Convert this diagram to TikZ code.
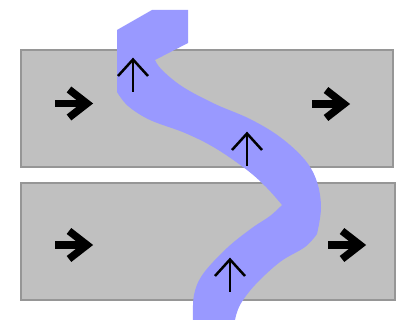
\documentclass[tikz,border=0pt]{standalone}
\usetikzlibrary{arrows.meta}
\definecolor{bandblue}{RGB}{153,153,255}
\definecolor{boxgray}{RGB}{192,192,192}
\definecolor{edgegray}{RGB}{150,150,150}
\tikzset{
  panel/.style={draw=edgegray, fill=boxgray, line width=1.5pt, inner sep=0pt, outer sep=0pt, anchor=north west},
  boldline/.style={line width=7.5pt, black},
  thinline/.style={line width=2.5pt, black},
  fwd/.pic={
    \draw[boldline] (-18,0) -- (11,0);
    \draw[boldline, line join=miter] (-4,-14) -- (14,0) -- (-4,14);
  },
  upar/.pic={
    \draw[thinline] (0,17) -- (0,-15);
    \draw[thinline, line join=miter] (-15,1) -- (0,-15.5) -- (15,1);
  }
}
\begin{document}
\begin{tikzpicture}[x=1pt,y=-1pt]
\useasboundingbox (0,0) rectangle (402,320);
\fill[white] (0,0) rectangle (402,320);
\node[panel, minimum width=372pt, minimum height=117pt] (top) at (21,50) {};
\node[panel, minimum width=374pt, minimum height=117pt] (bottom) at (21,183) {};
\fill[bandblue] (117,30) -- (152,10) -- (188,10) -- (188,43) -- (155,60)
  -- plot[smooth, tension=0.6] coordinates {(155,60) (162,70) (183,87) (215,104) (250,119) (280,137) (305,160) (317,182) (321,208) (317,234)}
  -- plot[smooth, tension=0.6] coordinates {(317,234) (305,247) (280,262) (255,285) (240,305) (235,320)}
  -- (193,320)
  -- plot[smooth, tension=0.6] coordinates {(193,320) (194,295) (203,274) (227,248) (252,228) (270,216) (282,205)}
  -- plot[smooth, tension=0.6] coordinates {(282,205) (267,188) (247,170) (215,148) (185,133) (150,120) (128,106) (117,92)}
  -- cycle;
\pic (f1) at (73,103.5) {fwd};
\pic (f2) at (330,104) {fwd};
\pic (f3) at (73,245) {fwd};
\pic (f4) at (346,245) {fwd};
\pic (u1) at (133,75) {upar};
\pic (u2) at (247,149) {upar};
\pic (u3) at (230,275) {upar};
\end{tikzpicture}
\end{document}
